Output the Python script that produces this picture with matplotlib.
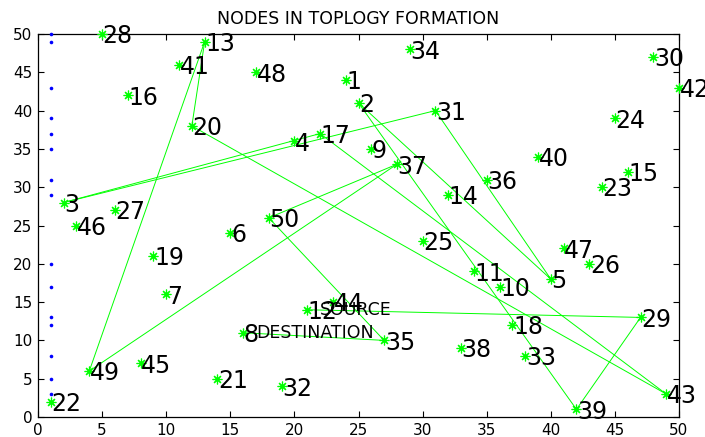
import matplotlib
matplotlib.use("Agg")
import matplotlib.pyplot as plt

# Node coordinates (node i is at index i-1)
node_x = [24, 25, 2, 20, 40, 15, 10, 16, 26, 36,
          34, 21, 13, 32, 46, 7, 22, 37, 9, 12,
          14, 1, 44, 45, 30, 43, 6, 5, 47, 48,
          31, 19, 38, 29, 27, 35, 28, 33, 42, 39,
          11, 50, 49, 23, 8, 3, 41, 17, 4, 18]
node_y = [44, 41, 28, 36, 18, 24, 16, 11, 35, 17,
          19, 14, 49, 29, 32, 42, 37, 12, 21, 38,
          5, 2, 30, 39, 23, 20, 27, 50, 13, 47,
          40, 4, 8, 48, 10, 31, 33, 9, 1, 34,
          46, 43, 3, 15, 7, 25, 22, 45, 6, 26]

# Links between nodes (1-based node numbers)
links = [(13, 20), (13, 49), (3, 17), (3, 31), (17, 43), (20, 43),
         (2, 39), (2, 5), (31, 5), (49, 37), (50, 37), (50, 35),
         (12, 29), (8, 35), (29, 39)]

# Reference points along x = 1
ref_x = [1] * 16
ref_y = [2, 3, 5, 8, 12, 13, 17, 20, 29, 31, 35, 37, 39, 43, 49, 50]

source_node = 12
dest_node = 8

plt.rcParams['font.family'] = ['DejaVu Sans']

fig = plt.figure(figsize=(7.05, 4.37), dpi=100)
ax = fig.add_axes([38 / 705, 20 / 437, 641 / 705, 383 / 437])

green = (0, 1, 0)

for a, b in links:
    ax.plot([node_x[a - 1], node_x[b - 1]], [node_y[a - 1], node_y[b - 1]],
            color=green, lw=0.7, zorder=2)

ax.plot(ref_x, ref_y, linestyle='none', marker='o', ms=2.6,
        color='blue', markeredgewidth=0, zorder=3, clip_on=False)

ax.plot(node_x, node_y, linestyle='none', marker=(8, 2, 0), ms=7,
        markeredgewidth=0.85, color=green, zorder=4, clip_on=False)

for i, (x, y) in enumerate(zip(node_x, node_y), start=1):
    ax.text(x + 0.05, y - 0.3, str(i), fontsize=17, ha='left', va='center',
            color='black', zorder=5, clip_on=False)

ax.text(node_x[source_node - 1] + 1, node_y[source_node - 1], 'SOURCE',
        fontsize=12.5, ha='left', va='center', zorder=6)
ax.text(node_x[dest_node - 1] + 1, node_y[dest_node - 1], 'DESTINATION',
        fontsize=12.5, ha='left', va='center', zorder=6)

ax.set_xlim(0, 50)
ax.set_ylim(0, 50)
ax.set_xticks(range(0, 51, 5))
ax.set_yticks(range(0, 51, 5))
ax.tick_params(direction='in', top=True, right=True, length=4.5,
               width=0.8, labelsize=11, pad=4)
for s in ax.spines.values():
    s.set_linewidth(0.9)

ax.set_title('NODES IN TOPLOGY FORMATION', fontsize=12.5, pad=7)

fig.savefig('out.png', dpi=100)
